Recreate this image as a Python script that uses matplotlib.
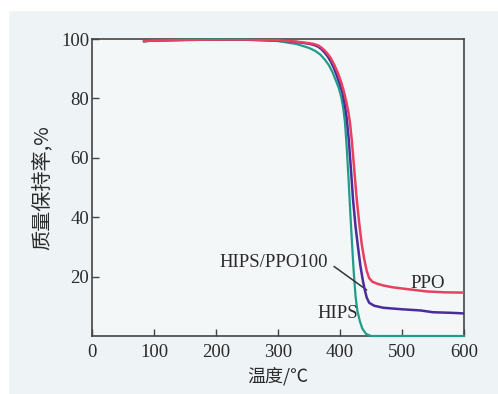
import matplotlib
matplotlib.use("Agg")
import matplotlib.pyplot as plt
from matplotlib.patches import Rectangle

# ---- data ----
hips_t = [84, 100, 150, 200, 250, 300, 330, 350, 360, 368, 375, 382, 388, 393, 398, 402, 405, 408, 411, 414, 417, 420, 422, 425, 428, 432, 436, 442, 450, 600]
hips_v = [99.2, 99.5, 99.7, 99.8, 99.7, 99.3, 98.3, 97.0, 96.0, 94.8, 93.2, 91.2, 88.8, 86.2, 83.5, 80.5, 77.0, 72.0, 63.0, 52.0, 40.0, 29.0, 22.0, 13.5, 8.5, 5.0, 2.5, 0.7, 0, 0]

blend_t = [84, 100, 150, 200, 250, 300, 330, 350, 358, 365, 370, 375, 380, 385, 390, 395, 400, 404, 408, 411, 414, 417, 421, 425, 429, 433, 437, 440, 443, 447, 455, 470, 500, 530, 550, 580, 600]
blend_v = [99.3, 99.5, 99.7, 99.8, 99.8, 99.6, 99.0, 98.4, 98.0, 97.4, 96.6, 95.5, 94.2, 92.5, 90.3, 87.6, 84.6, 82.0, 77.5, 73.0, 66.5, 58.0, 46.0, 37.0, 30.0, 23.5, 18.5, 15.5, 13.0, 11.2, 10.2, 9.5, 9.0, 8.6, 8.0, 7.8, 7.6]

ppo_t = [84, 100, 150, 200, 250, 300, 330, 350, 358, 365, 370, 375, 380, 385, 391, 397, 402, 406, 410, 413, 416, 419, 423, 427, 431, 435, 439, 443, 447, 452, 460, 470, 485, 500, 520, 540, 570, 600]
ppo_v = [99.3, 99.5, 99.7, 99.8, 99.8, 99.6, 99.1, 98.6, 98.3, 97.8, 97.1, 96.2, 95.0, 93.6, 91.2, 88.3, 85.4, 82.5, 79.0, 76.0, 72.0, 66.0, 56.0, 46.0, 38.0, 31.0, 26.0, 22.0, 19.5, 18.3, 17.6, 17.0, 16.4, 16.0, 15.5, 15.0, 14.7, 14.6]

x_ticks = [0, 100, 200, 300, 400, 500, 600]
y_ticks = [20, 40, 60, 80, 100]

bg = "#eef4f6"
txt = "#2a2a2a"
serif = ["Liberation Serif", "DejaVu Serif"]
cjk = ["Noto Sans CJK SC", "DejaVu Sans"]

fig = plt.figure(figsize=(4.98, 3.94), dpi=100)
fig.patch.set_facecolor(bg)
# white margins at top and left of the scan
fig.patches.append(Rectangle((0, 1 - 10/394), 1, 10/394, transform=fig.transFigure, color="white", zorder=0))
fig.patches.append(Rectangle((0, 0), 8/498, 1, transform=fig.transFigure, color="white", zorder=0))

ax = fig.add_axes([92/498, 1 - 336/394, (464 - 92)/498, (336 - 39)/394])
ax.set_facecolor("#f3f7f8")

ax.plot(hips_t, hips_v, color="#1f9c8a", lw=1.6, zorder=3, clip_on=False)
ax.plot(blend_t, blend_v, color="#4a2c9c", lw=1.8, zorder=4)
ax.plot(ppo_t, ppo_v, color="#e8405e", lw=1.8, zorder=5)

ax.set_xlim(0, 600)
ax.set_ylim(0, 100)
ax.set_xticks(x_ticks)
ax.set_yticks(y_ticks)
ax.set_xticklabels([str(v) for v in x_ticks], family=serif, fontsize=13.5, color=txt)
ax.set_yticklabels([str(v) for v in y_ticks], family=serif, fontsize=13.5, color=txt)
ax.tick_params(direction="in", length=5, width=1, color="#444444")
ax.tick_params(axis="x", pad=6)
ax.tick_params(axis="y", pad=2)
for s in ax.spines.values():
    s.set_color("#444444")
    s.set_linewidth(1.2)

ax.set_xlabel("温度/℃", family=cjk, fontsize=13, color=txt, labelpad=4)
ax.set_ylabel("质量保持率,%", family=cjk, fontsize=14.5, color=txt, labelpad=6)

ax.annotate("HIPS/PPO100", xy=(443, 15.5), xytext=(293, 24.9),
            ha="center", va="center", family=serif, fontsize=13.5, color=txt,
            arrowprops=dict(arrowstyle="-", color="#333333", lw=1.1, shrinkA=3, shrinkB=0,
                            relpos=(1.0, 0.5)))
ax.text(542, 17.8, "PPO", ha="center", va="center", family=serif, fontsize=13.5, color=txt)
ax.text(397, 7.6, "HIPS", ha="center", va="center", family=serif, fontsize=13.5, color=txt)

fig.savefig("out.png", dpi=100, facecolor=fig.get_facecolor())
